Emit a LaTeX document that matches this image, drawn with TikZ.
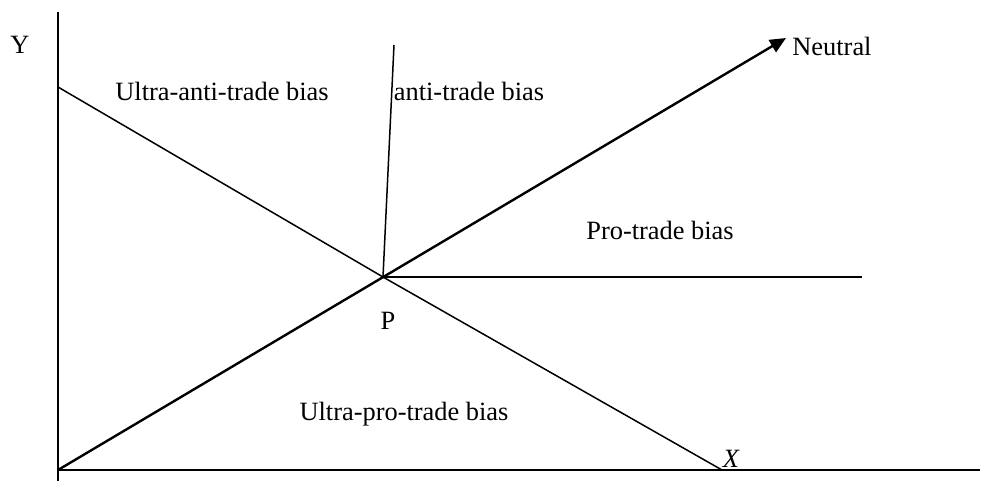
\documentclass[tikz,border=0pt]{standalone}
\usepackage{fontspec}
\setmainfont{Liberation Serif}
\usetikzlibrary{arrows.meta}
\begin{document}
\begin{tikzpicture}[x=0.5pt,y=-0.5pt,
  axis/.style={line width=1pt},
  ray/.style={line width=0.75pt},
  neutral/.style={line width=1.2pt,-{Triangle[length=8pt,width=7pt]}},
  lbl/.style={font=\fontsize{13.2}{15}\selectfont,inner sep=0pt}]
\useasboundingbox (0,0) rectangle (984,482);
\coordinate (Ytop) at (58,12);
\coordinate (Ybot) at (58,481);
\coordinate (O) at (58,470);
\coordinate (Xend) at (980,470);
\coordinate (P) at (383,277);
\coordinate (A) at (58,87);
\coordinate (Xpt) at (722,470);
\coordinate (V) at (394,45);
\coordinate (H) at (862,277);
\coordinate (N) at (786,38);
\draw[axis] (Ytop) -- (Ybot);
\draw[axis] (57,470) -- (Xend);
\draw[ray] (A) -- (P) -- (Xpt);
\draw[ray] (P) -- (V);
\draw[ray] (P) -- (H);
\draw[neutral] (O) -- (N);
\node[lbl] (ly) at (20,45) {Y};
\node[lbl] (lua) at (222,91) {Ultra-anti-trade bias};
\node[lbl] (la) at (469,91) {anti-trade bias};
\node[lbl,anchor=west] (ln) at (792,46) {Neutral};
\node[lbl] (lp) at (660,230) {Pro-trade bias};
\node[lbl] (lP) at (388,321) {P};
\node[lbl] (lup) at (404,414) {Ultra-pro-trade bias};
\node[lbl] (lx) at (731,459) {\itshape X};
\end{tikzpicture}
\end{document}
